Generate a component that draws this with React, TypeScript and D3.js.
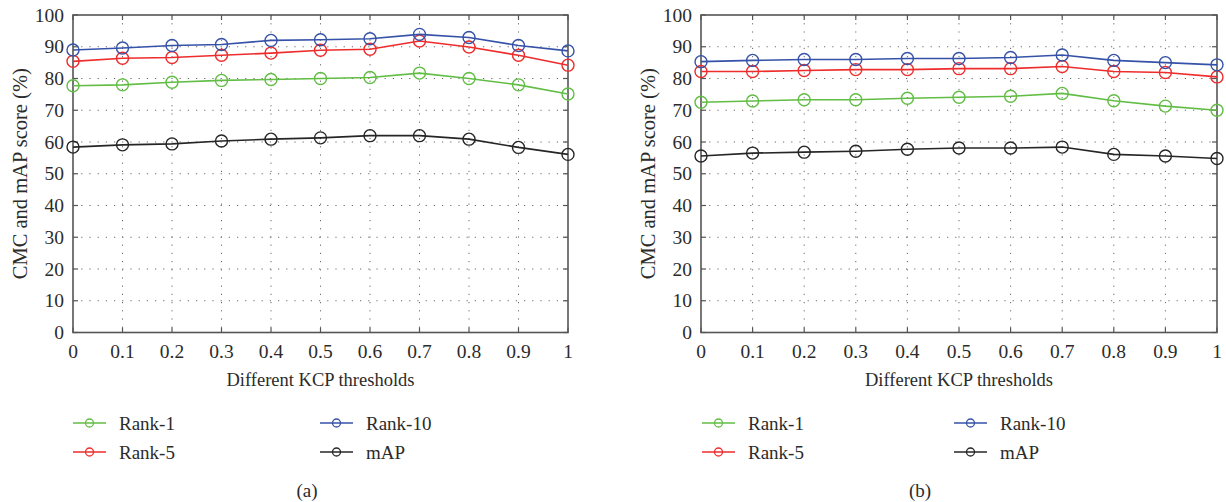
import React from "react";
import * as d3 from "d3";

const thresholds = [0, 0.1, 0.2, 0.3, 0.4, 0.5, 0.6, 0.7, 0.8, 0.9, 1];
const xTicks = [0, 0.1, 0.2, 0.3, 0.4, 0.5, 0.6, 0.7, 0.8, 0.9, 1];
const xTickLabels = ["0", "0.1", "0.2", "0.3", "0.4", "0.5", "0.6", "0.7", "0.8", "0.9", "1"];
const yTicks = [0, 10, 20, 30, 40, 50, 60, 70, 80, 90, 100];

const seriesNames = ["Rank-1", "Rank-5", "Rank-10", "mAP"];
const seriesColors = ["#62bd45", "#ee2c2c", "#3552a8", "#262626"];

// Panel (a)
const aRank1 = [77.7, 78.0, 78.8, 79.4, 79.7, 80.0, 80.3, 81.7, 80.0, 78.0, 75.1];
const aRank5 = [85.4, 86.4, 86.6, 87.3, 88.0, 88.9, 89.2, 91.8, 89.9, 87.3, 84.2];
const aRank10 = [89.0, 89.6, 90.4, 90.7, 92.0, 92.2, 92.5, 93.9, 92.9, 90.4, 88.7];
const aMAP = [58.4, 59.1, 59.4, 60.3, 60.9, 61.3, 62.0, 62.0, 60.9, 58.3, 56.1];

// Panel (b)
const bRank1 = [72.5, 72.9, 73.3, 73.3, 73.8, 74.1, 74.4, 75.3, 73.0, 71.3, 70.0];
const bRank5 = [82.2, 82.2, 82.5, 82.8, 82.8, 83.1, 83.1, 83.8, 82.2, 81.9, 80.5];
const bRank10 = [85.3, 85.7, 86.0, 86.0, 86.3, 86.3, 86.6, 87.4, 85.7, 85.0, 84.3];
const bMAP = [55.6, 56.5, 56.8, 57.1, 57.7, 58.1, 58.1, 58.4, 56.1, 55.6, 54.8];

const xLabel = "Different KCP thresholds";
const yLabel = "CMC and mAP score (%)";

const FONT = "'Liberation Serif', 'DejaVu Serif', serif";
const TEXT = "#2b2b2b";

type PanelProps = {
  x0: number;
  x1: number;
  series: number[][];
  yLabelX: number;
  legendCols: [number, number];
  caption: string;
  captionX: number;
};

function Panel({ x0, x1, series, yLabelX, legendCols, caption, captionX }: PanelProps) {
  const yTop = 15;
  const yBot = 332.5;
  const x = d3.scaleLinear().domain([0, 1]).range([x0, x1]);
  const y = d3.scaleLinear().domain([0, 100]).range([yBot, yTop]);
  const line = d3
    .line<number>()
    .x((_, i) => x(thresholds[i]))
    .y((d) => y(d));
  const tickLen = 5;
  const gridColor = "#6a6a6a";
  const axisColor = "#555";
  const midX = (x0 + x1) / 2;
  const midY = (yTop + yBot) / 2;

  const legendRows = [423, 452];
  const legendItems = [
    { i: 0, col: 0, row: 0 },
    { i: 1, col: 0, row: 1 },
    { i: 2, col: 1, row: 0 },
    { i: 3, col: 1, row: 1 },
  ];

  return (
    <g>
      {yTicks.slice(1, -1).map((t) => (
        <line
          key={"gy" + t}
          x1={x0}
          x2={x1}
          y1={y(t)}
          y2={y(t)}
          stroke={gridColor}
          strokeWidth={1}
          strokeDasharray="1.2 7"
        />
      ))}
      {xTicks.slice(1, -1).map((t) => (
        <line
          key={"gx" + t}
          x1={x(t)}
          x2={x(t)}
          y1={yTop}
          y2={yBot}
          stroke={gridColor}
          strokeWidth={1}
          strokeDasharray="1.2 7"
        />
      ))}
      {yTicks.map((t) => (
        <g key={"ty" + t}>
          <line x1={x0} x2={x0 + tickLen} y1={y(t)} y2={y(t)} stroke={axisColor} strokeWidth={1.2} />
          <line x1={x1} x2={x1 - tickLen} y1={y(t)} y2={y(t)} stroke={axisColor} strokeWidth={1.2} />
          <text
            x={x0 - 9}
            y={y(t)}
            textAnchor="end"
            dominantBaseline="central"
            fontFamily={FONT}
            fontSize={19.5}
            fill={TEXT}
          >
            {t}
          </text>
        </g>
      ))}
      {xTicks.map((t, i) => (
        <g key={"tx" + t}>
          <line x1={x(t)} x2={x(t)} y1={yBot} y2={yBot - tickLen} stroke={axisColor} strokeWidth={1.2} />
          <line x1={x(t)} x2={x(t)} y1={yTop} y2={yTop + tickLen} stroke={axisColor} strokeWidth={1.2} />
          <text
            x={x(t)}
            y={351}
            textAnchor="middle"
            dominantBaseline="central"
            fontFamily={FONT}
            fontSize={19.5}
            fill={TEXT}
          >
            {xTickLabels[i]}
          </text>
        </g>
      ))}
      <rect x={x0} y={yTop} width={x1 - x0} height={yBot - yTop} fill="none" stroke={axisColor} strokeWidth={1.6} />
      {series.map((vals, si) => (
        <g key={"s" + si}>
          <path d={line(vals) || ""} fill="none" stroke={seriesColors[si]} strokeWidth={1.6} />
          {vals.map((v, i) => (
            <circle
              key={i}
              cx={x(thresholds[i])}
              cy={y(v)}
              r={6}
              fill="none"
              stroke={seriesColors[si]}
              strokeWidth={1.4}
            />
          ))}
        </g>
      ))}
      <text
        x={midX}
        y={380}
        textAnchor="middle"
        dominantBaseline="central"
        fontFamily={FONT}
        fontSize={18.5}
        fill={TEXT}
      >
        {xLabel}
      </text>
      <text
        transform={`translate(${yLabelX},${midY}) rotate(-90)`}
        textAnchor="middle"
        dominantBaseline="central"
        fontFamily={FONT}
        fontSize={20.5}
        fill={TEXT}
      >
        {yLabel}
      </text>
      {legendItems.map(({ i, col, row }) => {
        const lx = legendCols[col];
        const ly = legendRows[row];
        return (
          <g key={"lg" + i}>
            <line x1={lx} x2={lx + 33} y1={ly} y2={ly} stroke={seriesColors[i]} strokeWidth={1.6} />
            <circle cx={lx + 16.5} cy={ly} r={4} fill="none" stroke={seriesColors[i]} strokeWidth={1.3} />
            <text
              x={lx + 46}
              y={ly}
              dominantBaseline="central"
              fontFamily={FONT}
              fontSize={19}
              fill={TEXT}
            >
              {seriesNames[i]}
            </text>
          </g>
        );
      })}
      <text
        x={captionX}
        y={490}
        textAnchor="middle"
        dominantBaseline="central"
        fontFamily={FONT}
        fontSize={19}
        fill={TEXT}
      >
        {caption}
      </text>
    </g>
  );
}

export default function App() {
  return (
    <svg
      width={1226}
      height={502}
      viewBox="0 0 1226 502"
      style={{ position: "absolute", left: 0, top: 0, background: "#fff" }}
    >
      <rect x={0} y={0} width={1226} height={502} fill="#fff" />
      <Panel
        x0={73}
        x1={568}
        series={[aRank1, aRank5, aRank10, aMAP]}
        yLabelX={20}
        legendCols={[73, 320]}
        caption="(a)"
        captionX={307}
      />
      <Panel
        x0={701}
        x1={1217}
        series={[bRank1, bRank5, bRank10, bMAP]}
        yLabelX={648}
        legendCols={[702, 954]}
        caption="(b)"
        captionX={920}
      />
    </svg>
  );
}
